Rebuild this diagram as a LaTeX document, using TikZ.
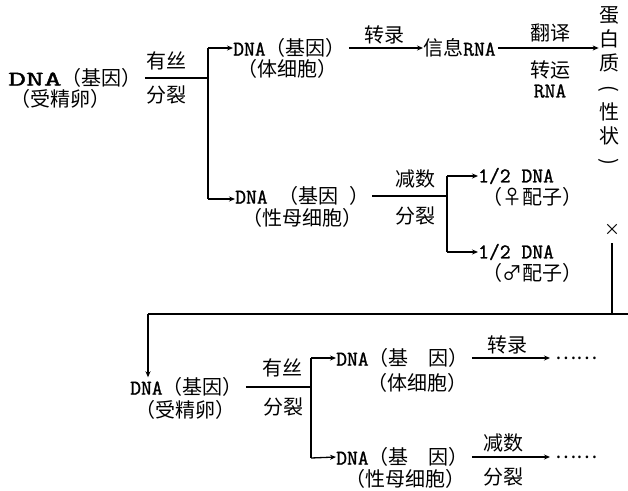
\documentclass[tikz,border=0pt]{standalone}
\usepackage{fontspec}
\usepackage{graphicx}
\setmainfont{Noto Sans CJK SC}
\newfontfamily\lat[FakeBold=1.2]{Latin Modern Mono}
\usetikzlibrary{arrows.meta}
\newcommand\zhfs{\fontsize{20}{21}\selectfont}
\newcommand\La[1]{{\lat\fontsize{21}{21}\selectfont #1}}
\newcommand\vpar[1]{\rotatebox[origin=c]{-90}{\makebox[1em]{#1}}}
\begin{document}
\begin{tikzpicture}[x=1pt,y=-1pt,
  t/.style={inner sep=0pt, anchor=west, font=\zhfs},
  c/.style={inner sep=0pt, font=\zhfs},
  ln/.style={line width=1.3pt},
  arr/.style={line width=1.3pt,-{Stealth[length=6pt,width=5pt]}}]
\useasboundingbox[fill=white] (0,0) rectangle (628,490);
% ---------- top block ----------
\node[t] (a1) at (8,78) {\scalebox{1.65}[1]{\La{DNA}}（基因）};
\node[t] (a2) at (10,99) {（受精卵）};
\coordinate (b1t) at (208,48);
\coordinate (b1b) at (208,199);
\draw[ln] (b1t) -- (b1b);
\draw[ln] ([xshift=3pt]a1.east) -- (a1.east -| b1t);
\node[c] (m1u) at (166,61) {有丝};
\node[c] (m1d) at (166,95) {分裂};
\node[t] (s1) at (233,48) {\La{DNA}（基因）};
\node[t] (s2) at (237,69) {（体细胞）};
\draw[arr] (b1t) -- (s1.west);
\node[t] (r) at (423,48) {信息\La{RNA}};
\draw[arr] ([xshift=3pt]s1.east) -- (r.west);
\node[c] (z1) at (384,35) {转录};
\node[c] (f1) at (550,33) {翻译};
\node[c] (f2) at (550,70) {转运};
\node[c] (f3) at (550,91) {\La{RNA}};
\node[c, align=center, font=\fontsize{20}{24.2}\selectfont] (p) at (609,89) {蛋\\白\\质\\\vpar{(}\\性\\状\\\vpar{)}};
\draw[arr] ([xshift=2pt]r.east) -- (p.west |- r.east);
% ---------- middle ----------
\node[t] (g1) at (235,196) {\La{DNA\ }（基因\La{\ }）};
\node[t] (g2) at (242,218) {（性母细胞）};
\draw[arr] (b1b) -- (b1b -| g1.west);
\coordinate (b2t) at (447,176);
\coordinate (b2b) at (447,252);
\draw[ln] (b2t) -- (b2b);
\draw[ln] ([xshift=3pt]g1.east) -- (g1.east -| b2t);
\node[c] (j1) at (415,179) {减数};
\node[c] (j2) at (415,216) {分裂};
\node[t] (h1) at (478,176) {\La{1/2 DNA}};
\node[t] (h2) at (482,197) {（♀配子）};
\node[t] (k1) at (478,252) {\La{1/2 DNA}};
\node[t] (k2) at (482,273) {（♂配子）};
\draw[arr] (b2t) -- (h1.west);
\draw[arr] (b2b) -- (k1.west);
\node[c, font=\fontsize{16}{16}\selectfont] (x) at (612,230) {×};
% ---------- return line ----------
\node[t] (d1) at (130,387) {\La{DNA}（基因）};
\node[t] (d2) at (135,410) {（受精卵）};
\coordinate (c1) at (612,243);
\coordinate (c2) at (148,314);
\coordinate (c4) at (628,314);
\draw[ln] (c1) -- (c1 |- c2);
\draw[ln] (c4) -- (c2);
\draw[arr] (c2) -- (c2 |- d1.north);
% ---------- bottom block ----------
\coordinate (b3t) at (311,358);
\coordinate (b3b) at (311,458);
\draw[ln] (b3t) -- (b3b);
\draw[ln] ([xshift=3pt]d1.east) -- (d1.east -| b3t);
\node[c] (e1) at (282,368) {有丝};
\node[c] (e2) at (283,407) {分裂};
\node[t] (u1) at (336,358) {\La{DNA}（基\quad 因）};
\node[t] (u2) at (367,383) {（体细胞）};
\node[t] (v1) at (336,457) {\La{DNA}（基\quad 因）};
\node[t] (v2) at (345,479) {（性母细胞）};
\draw[arr] (b3t) -- (u1.west);
\draw[arr] (b3b) -- (v1.west);
\node[c] (w1) at (507,345) {转录};
\node[t] (o1) at (555,358) {……};
\draw[arr] ([xshift=3pt]u1.east) -- ([xshift=-5pt]o1.west);
\node[c] (w2) at (503,443) {减数};
\node[c] (w3) at (503,477) {分裂};
\node[t] (o2) at (555,457) {……};
\draw[arr] ([xshift=3pt]v1.east) -- ([xshift=-5pt]o2.west);
\end{tikzpicture}
\end{document}
